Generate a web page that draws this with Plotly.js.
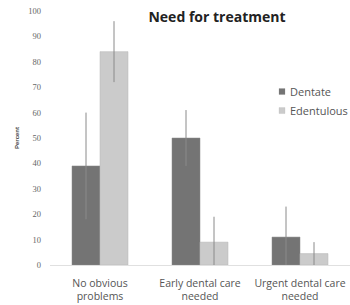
<!DOCTYPE html>
<html>
<head>
<meta charset="utf-8">
<script src="https://cdn.plot.ly/plotly-3.0.1.min.js"></script>
<style>html,body{margin:0;padding:0;background:#fff;}#chart{width:350px;height:305px;}</style>
</head>
<body>
<div id="chart"></div>
<script>
const categories = ["No obvious<br>problems", "Early dental care<br>needed", "Urgent dental care<br>needed"];
const dentate = [39, 50, 11];
const dentateErr = [21, 11, 12];
const edentulous = [84, 9, 4.5];
const edentulousErr = [12, 10, 4.5];
const yTicks = [0, 10, 20, 30, 40, 50, 60, 70, 80, 90, 100];

const traces = [
  {
    type: 'bar', name: 'Dentate', x: categories, y: dentate,
    marker: {color: '#747474', line: {color: '#8a8a8a', width: 0.5}},
    error_y: {type: 'data', array: dentateErr, visible: true, color: '#8a8a8a', thickness: 1, width: 0}
  },
  {
    type: 'bar', name: 'Edentulous', x: categories, y: edentulous,
    marker: {color: '#cbcbcb', line: {color: '#b5b5b5', width: 0.5}},
    error_y: {type: 'data', array: edentulousErr, visible: true, color: '#8a8a8a', thickness: 1, width: 0}
  }
];

const layout = {
  width: 350, height: 305,
  margin: {l: 50, r: 0, t: 11, b: 40, autoexpand: false},
  paper_bgcolor: '#fff', plot_bgcolor: '#fff',
  barmode: 'group', bargap: 0.44, bargroupgap: 0,
  title: {text: '<b>Need for treatment</b>', x: 0.62, xanchor: 'center', y: 0.944, yanchor: 'middle',
          font: {family: 'Open Sans, Noto Sans, sans-serif', size: 14, color: '#222'}},
  xaxis: {
    showgrid: false, zeroline: false, showline: true, linecolor: '#e0e0e0', linewidth: 1,
    ticks: '', tickfont: {family: 'Open Sans, Noto Sans, sans-serif', size: 10.5, color: '#555'},
    ticklabelstandoff: 8, automargin: false
  },
  yaxis: {
    range: [0, 100], tickvals: yTicks, showgrid: false, zeroline: false, showline: false,
    ticks: '', tickfont: {family: 'Liberation Serif, serif', size: 8.5, color: '#666'},
    ticklabelstandoff: 8, automargin: false,
    title: {text: '<b>Percent</b>', font: {family: 'Liberation Sans, sans-serif', size: 6, color: '#444'}, standoff: 8}
  },
  legend: {
    x: 1.01, y: 0.74, xanchor: 'right', yanchor: 'top',
    font: {family: 'Open Sans, Noto Sans, sans-serif', size: 11, color: '#555'},
    bgcolor: 'rgba(0,0,0,0)', itemwidth: 30, tracegroupgap: 0
  },
  showlegend: true
};

Plotly.newPlot('chart', traces, layout, {displayModeBar: false, staticPlot: true}).then(function (gd) {
  gd.querySelectorAll('.legend .legendpoints').forEach(function (g) {
    g.setAttribute('transform', 'translate(22,0) scale(0.5)');
  });
});
</script>
</body>
</html>
